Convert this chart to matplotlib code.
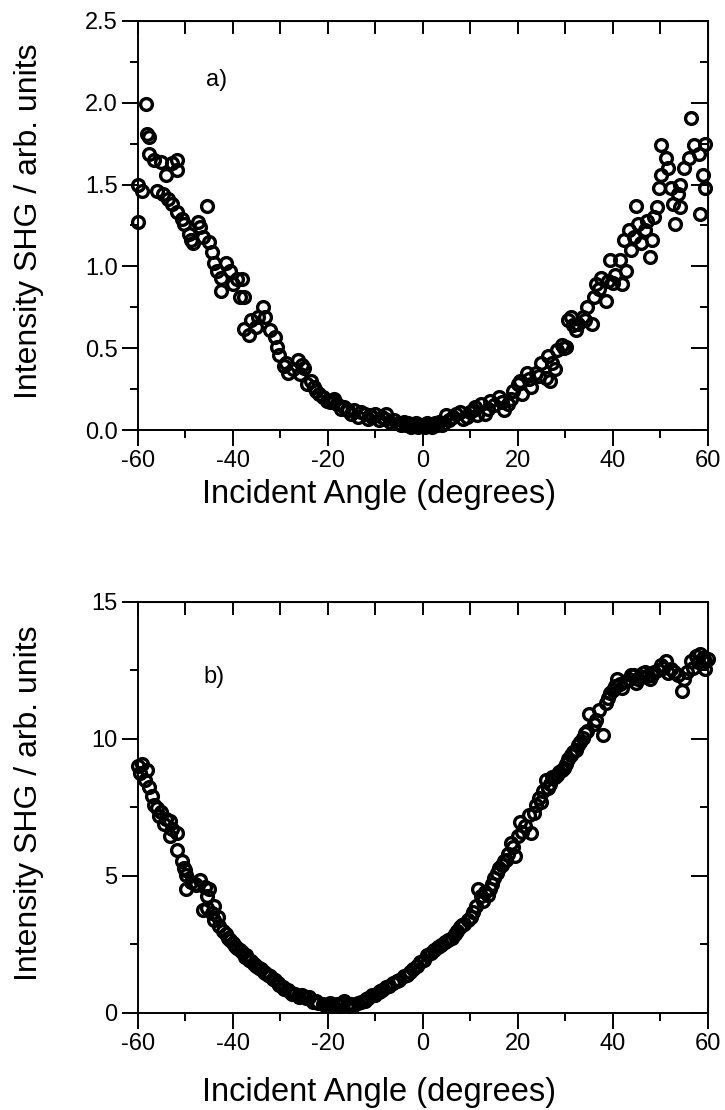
import numpy as np
import matplotlib
matplotlib.use("Agg")
import matplotlib.pyplot as plt
from matplotlib.ticker import MultipleLocator

plt.rcParams["font.family"] = ["Liberation Sans", "DejaVu Sans"]
plt.rcParams["axes.unicode_minus"] = False

# -----------------------------
# Data
# -----------------------------
# panel a) : SHG intensity vs incident angle
angle_a = [
    -60, -60, -59, -58.2, -58, -57.6, -57.6, -56.6, -55, -56, -54.6, -54, -52.7,
    -51.7, -51.7, -53.7, -52.7, -51.7, -50.7, -50.2, -49.3, -48.8, -48.3, -47.3,
    -46.8, -46.3, -45.4, -44.9, -44.4, -43.9, -43.4, -42.4, -42.4, -41.5, -40.5,
    -40, -39, -38, -38.5, -37.6, -37.6, -36.6, -36.1, -35.1, -34.6, -33.7, -33.2,
    -32.2, -31.2, -30.7, -30.2, -29.3, -28.3, -27.3, -26.3, -25.9, -24.9, -24.4,
    -23.5, -22.9, -21.9, -21.0, -20.2, -19.5, -18.7, -18.0, -17.3, -16.6, -15.8,
    -15.1, -14.4, -13.7, -13.0, -12.2, -11.5, -10.7, -10.0, -9.3, -8.5, -7.8,
    -6.8, -6.0, -5.0, -4.5, -4.0, -3.5, -3.0, -2.5, -2.0, -1.5, -1.0, -0.5, 0.0,
    0.5, 1.0, 1.5, 2.0, 2.5, 3.0, 3.5, 4.0, 4.5, 4.9, 5.6, 6.3, 7.0, 7.8, 8.5,
    9.3, 10.0, 10.7, 11.5, 12.2, 13.2, 14.1, 15.1, 16.1, 17.1, 18.0, 19.0, 20.0,
    21.0, 21.9, 22.9, 23.9, 24.9, 25.9, 26.3, 26.8, 27.3, 28.3, 29.3, 30.2, 30.7,
    31.2, 32.2, 32.7, 33.7, 34.6, 35.6, 36.1, 36.6, 37.6, 38.5, 39.0, 39.5, 40.5,
    41.5, 42.0, 42.9, 42.4, 43.4, 44.4, 44.9, 45.4, 45.9, 46.8, 47.3, 47.8, 48.3,
    49.3, 49.8, 50.2, 50.2, 51.2, 51.7, 52.2, 52.7, 53.2, 53.7, 54.1, 54.1, 55.1,
    56.1, 56.6, 57.1, 58.1, 58.5, 59.0, 59.5, 59.5,
    -28.8, -25.4, -22.4, -19.0, -16.0, -11.0, -8.0, 11.0, 13.7, 16.6, 18.5,
    20.5, 22.4, 24.4, 27.8, 29.8, 31.7, 34.1, 37.1, 40.0, 43.9, 48.8,
]
shg_a = [
    1.27, 1.50, 1.46, 1.99, 1.81, 1.79, 1.69, 1.65, 1.64, 1.46, 1.44, 1.56, 1.63,
    1.65, 1.59, 1.41, 1.38, 1.33, 1.29, 1.26, 1.20, 1.16, 1.14, 1.27,
    1.24, 1.18, 1.37, 1.15, 1.09, 1.02, 0.97, 0.93, 0.85, 1.02, 0.97,
    0.89, 0.92, 0.92, 0.81, 0.81, 0.62, 0.58, 0.67, 0.63, 0.69, 0.75, 0.69,
    0.61, 0.57, 0.51, 0.46, 0.39, 0.35, 0.37, 0.43, 0.34, 0.38, 0.28,
    0.30, 0.26, 0.22, 0.20, 0.18, 0.17, 0.19, 0.16, 0.13, 0.14, 0.12,
    0.10, 0.12, 0.08, 0.11, 0.10, 0.07, 0.08, 0.10, 0.06, 0.08, 0.10,
    0.05, 0.06, 0.04, 0.03, 0.05, 0.03, 0.04, 0.02, 0.03, 0.04, 0.02, 0.03, 0.03,
    0.02, 0.04, 0.03, 0.02, 0.04, 0.03, 0.05, 0.03, 0.04, 0.09, 0.06, 0.08, 0.10, 0.11, 0.07,
    0.08, 0.11, 0.12, 0.09, 0.16, 0.10, 0.18, 0.15, 0.20, 0.12, 0.16, 0.24, 0.28,
    0.22, 0.35, 0.26, 0.35, 0.41, 0.32, 0.45, 0.30, 0.41, 0.49, 0.52, 0.51, 0.67,
    0.69, 0.61, 0.65, 0.69, 0.75, 0.65, 0.81, 0.89, 0.93, 0.79, 0.91, 1.04, 0.95,
    1.04, 0.89, 0.97, 1.16, 1.22, 1.18, 1.37, 1.26, 1.14, 1.22, 1.28, 1.06, 1.16,
    1.36, 1.48, 1.56, 1.74, 1.66, 1.60, 1.48, 1.38, 1.26, 1.44, 1.50, 1.36, 1.60,
    1.66, 1.91, 1.74, 1.69, 1.32, 1.56, 1.48, 1.75,
    0.41, 0.40, 0.24, 0.18, 0.12, 0.09, 0.07, 0.14, 0.13, 0.17, 0.19,
    0.30, 0.31, 0.33, 0.37, 0.50, 0.64, 0.67, 0.86, 0.90, 1.10, 1.30,
]

# panel b)
angle_b = [
    -60, -59.5, -58, -58.5, -57.6, -57, -56, -55, -54, -53.2, -52.7, -53.2, -51.7,
    -51.7, -50.7, -50.2, -49.8, -49.8, -48.8, -47.8, -46.8, -45.9, -44.9, -45.4,
    -46.3, -45.4, -44.4, -43.9, -42.9, -42.0, -41.0, -40.0, -39.0, -38.0, -37.1,
    -36.1, -35.1, -34.1, -33.2, -32.2, -31.2, -30.2, -29.3, -28.3, -26.8, -25.4,
    -23.9, -22.4, -21.0, -19.5, -18.0, -16.6, -15.1, -13.7, -12.2, -10.7, -9.3,
    -7.8, -6.3, -4.9, -3.4, -2.0, -0.5, 1.0, 2.4, 3.9, 5.4, 6.8, 7.8, 8.8, 10.2,
    11.2, 12.2, 11.7, 13.2, 14.1, 15.1, 16.1, 17.1, 18.0, 19.0, 19.5, 20.0, 20.5,
    21.5, 22.4, 22.9, 23.9, 24.4, 25.4, 25.9, 26.8, 27.8, 28.8, 29.8, 30.7, 31.7,
    32.7, 33.7, 34.6, 35.1, 36.1, 37.1, 38.0, 38.5, 39.5, 40.5, 41.0, 42.0, 42.9,
    43.9, 44.9, 45.9, 46.8, 47.8, 48.8, 50.2, 51.2, 52.2, 53.7, 54.6, 55.6, 56.6,
    57.6, 58.5, 59.5, 59.5,
    -59.0, -56.5, -55.5, -54.5, -50.0, -48.0, -44.0, -43.0, -41.5, -40.5, -39.5,
    -38.5, -37.5, -36.5, -35.5, -34.5, -33.5, -32.5, -31.5, -30.5, -29.5, -28.0,
    -27.5, -26.0, -24.5, -23.0, -22.0, -20.5, -20.0, -19.0, -17.5, -17.0, -16.0,
    -15.5, -14.5, -13.0, -12.0, -11.5, -10.0, -9.0, -8.5, -7.0, -5.5, -4.0, -2.7,
    -1.2, 0.2, 1.7, 3.2, 4.6, 6.1, 7.3, 8.3, 9.5, 10.7, 12.7, 13.7, 14.6, 15.6,
    16.6, 17.6, 18.5, 21.0, 23.4, 24.9, 26.3, 27.3, 28.3, 29.3, 30.2, 31.2, 32.2,
    33.2, 34.1, 36.6, 39.0, 40.0, 41.5, 43.4, 44.4, 45.4, 46.3, 47.3, 48.3, 49.5,
    50.7, 51.7, 53.0, 55.0, 57.0, 58.0, 59.0, 60.0,
]
shg_b = [
    9.00, 8.74, 8.87, 8.49, 8.23, 7.91, 7.47, 7.34, 7.09, 7.02, 6.70, 6.45, 6.57,
    5.94, 5.55, 5.30, 5.04, 4.53, 4.79, 4.66, 4.85, 4.60, 4.53, 4.28,
    3.77, 3.83, 3.64, 3.38, 3.19, 3.00, 2.74, 2.55, 2.36, 2.23, 2.11,
    1.91, 1.72, 1.60, 1.47, 1.34, 1.21, 1.02, 0.89, 0.83, 0.70, 0.64,
    0.57, 0.45, 0.32, 0.38, 0.32, 0.45, 0.32, 0.38, 0.45, 0.64, 0.77,
    0.96, 1.09, 1.21, 1.40, 1.60, 1.85, 2.11, 2.30, 2.49, 2.68, 2.87, 3.13, 3.26, 3.51,
    3.89, 4.28, 4.53, 4.40, 4.53, 4.91, 5.30, 5.55, 5.81, 6.06, 5.74, 6.45, 6.96,
    6.83, 7.21, 6.57, 7.60, 7.85, 8.11, 8.49, 8.36, 8.62, 8.81, 8.94, 9.26, 9.51,
    9.77, 10.02, 10.28, 10.91, 10.53, 11.04, 10.15, 11.30, 11.68, 11.94, 12.19, 11.87, 12.13,
    12.32, 12.06, 12.26, 12.45, 12.19, 12.45, 12.70, 12.83, 12.57, 12.32, 11.74, 12.45, 12.83,
    13.02, 13.09, 12.83, 12.57,
    9.10, 7.60, 7.20, 6.90, 5.20, 4.70, 3.90, 3.50, 2.90, 2.65, 2.45,
    2.30, 2.05, 1.95, 1.80, 1.65, 1.50, 1.40, 1.25, 1.10, 0.95, 0.75,
    0.70, 0.60, 0.55, 0.40, 0.35, 0.28, 0.25, 0.30, 0.25, 0.35, 0.30,
    0.25, 0.30, 0.40, 0.50, 0.55, 0.65, 0.80, 0.85, 1.00, 1.15, 1.35, 1.50,
    1.70, 1.95, 2.20, 2.40, 2.60, 2.75, 3.00, 3.20, 3.40, 3.70, 4.10, 4.30, 4.70, 5.10,
    5.40, 5.60, 6.20, 6.60, 7.30, 7.70, 8.20, 8.60, 8.70, 8.85, 9.10, 9.40, 9.60,
    9.90, 10.20, 10.70, 11.50, 11.80, 12.00, 12.20, 12.35, 12.20, 12.40, 12.30, 12.35, 12.50,
    12.60, 12.40, 12.45, 12.20, 12.60, 12.80, 12.95, 12.90,
]

# -----------------------------
# Figure
# -----------------------------
fig = plt.figure(figsize=(7.25, 11.10), dpi=100)

panels = [
    dict(rect=[0.190, 0.6126, 0.786, 0.3685], x=angle_a, y=shg_a, ylim=(0, 2.5),
         major=0.5, minor=0.25, fmt="{:.1f}", tag="a)", tag_xy=(-43.4, 2.14),
         xlab_y=-0.12),
    dict(rect=[0.190, 0.0874, 0.786, 0.3703], x=angle_b, y=shg_b, ylim=(0, 15),
         major=5, minor=2.5, fmt="{:.0f}", tag="b)", tag_xy=(-43.9, 12.26),
         xlab_y=-0.155),
]

for p in panels:
    ax = fig.add_axes(p["rect"])
    ax.plot(p["x"], p["y"], linestyle="none", marker="o", markersize=8.5,
            markerfacecolor="none", markeredgecolor="black", markeredgewidth=2.4,
            clip_on=False)
    ax.set_xlim(-60, 60)

    for s in ax.spines.values():
        s.set_linewidth(1.4)

    ax.xaxis.set_major_locator(MultipleLocator(20))
    ax.xaxis.set_minor_locator(MultipleLocator(10))
    yt = np.arange(0, p["ylim"][1] + 1e-9, p["major"])
    ax.set_yticks(yt)
    ax.set_yticklabels([p["fmt"].format(v) for v in yt])
    ax.yaxis.set_minor_locator(MultipleLocator(p["minor"]))
    ax.set_ylim(*p["ylim"])

    ax.tick_params(which="major", direction="out", length=11.5, width=1.4,
                   labelsize=17, pad=3)
    ax.tick_params(which="minor", direction="out", length=6, width=1.4)

    # top / right ticks point inward
    top = ax.secondary_xaxis("top")
    top.xaxis.set_major_locator(MultipleLocator(10))
    top.tick_params(direction="in", length=9.5, width=1.4, labeltop=False)
    right = ax.secondary_yaxis("right")
    right.yaxis.set_major_locator(MultipleLocator(p["major"]))
    right.yaxis.set_minor_locator(MultipleLocator(p["minor"]))
    right.tick_params(which="major", direction="in", length=12, width=1.4,
                      labelright=False)
    right.tick_params(which="minor", direction="in", length=6, width=1.4)

    ax.set_xlabel("Incident Angle (degrees)", fontsize=23.5)
    ax.xaxis.set_label_coords(0.423, p["xlab_y"])
    ax.set_ylabel("Intensity SHG / arb. units", fontsize=23)
    ax.yaxis.set_label_coords(-0.165, 0.51)
    ax.text(*p["tag_xy"], p["tag"], fontsize=17, ha="center", va="center")

fig.savefig("out.png", dpi=100)
